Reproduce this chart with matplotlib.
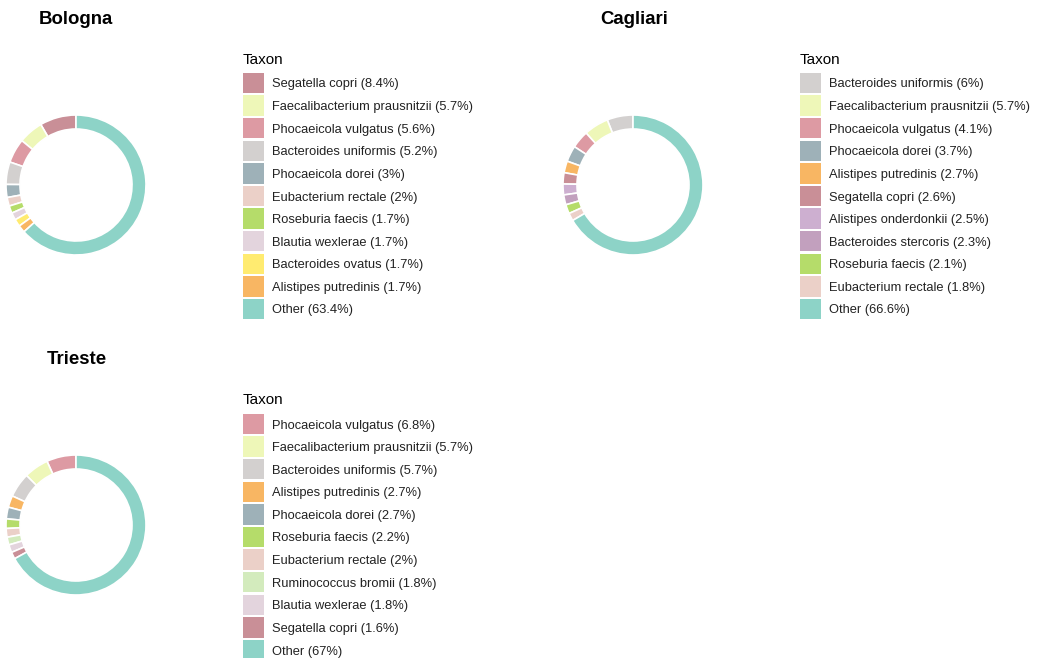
import matplotlib.pyplot as plt
from matplotlib.patches import Rectangle

plt.rcParams['font.family'] = ['Liberation Sans', 'DejaVu Sans']

W, H = 1040, 658

# taxon colours shared across sites
colors = {
    "Segatella copri": "#c98f97",
    "Faecalibacterium prausnitzii": "#eef7b8",
    "Phocaeicola vulgatus": "#dd9aa3",
    "Bacteroides uniformis": "#d3d0cf",
    "Phocaeicola dorei": "#9eb1b8",
    "Eubacterium rectale": "#ebd0c8",
    "Roseburia faecis": "#b5dc6a",
    "Blautia wexlerae": "#e3d4dd",
    "Bacteroides ovatus": "#ffeb70",
    "Alistipes putredinis": "#f8b663",
    "Alistipes onderdonkii": "#cdafd0",
    "Bacteroides stercoris": "#c2a0be",
    "Ruminococcus bromii": "#d3ebbd",
    "Other": "#8dd3c7",
}

bologna_taxa = ["Segatella copri", "Faecalibacterium prausnitzii", "Phocaeicola vulgatus",
                "Bacteroides uniformis", "Phocaeicola dorei", "Eubacterium rectale",
                "Roseburia faecis", "Blautia wexlerae", "Bacteroides ovatus",
                "Alistipes putredinis", "Other"]
bologna_pct = [8.4, 5.7, 5.6, 5.2, 3, 2, 1.7, 1.7, 1.7, 1.7, 63.4]

cagliari_taxa = ["Bacteroides uniformis", "Faecalibacterium prausnitzii", "Phocaeicola vulgatus",
                 "Phocaeicola dorei", "Alistipes putredinis", "Segatella copri",
                 "Alistipes onderdonkii", "Bacteroides stercoris", "Roseburia faecis",
                 "Eubacterium rectale", "Other"]
cagliari_pct = [6, 5.7, 4.1, 3.7, 2.7, 2.6, 2.5, 2.3, 2.1, 1.8, 66.6]

trieste_taxa = ["Phocaeicola vulgatus", "Faecalibacterium prausnitzii", "Bacteroides uniformis",
                "Alistipes putredinis", "Phocaeicola dorei", "Roseburia faecis",
                "Eubacterium rectale", "Ruminococcus bromii", "Blautia wexlerae",
                "Segatella copri", "Other"]
trieste_pct = [6.8, 5.7, 5.7, 2.7, 2.7, 2.2, 2, 1.8, 1.8, 1.6, 67]

fig = plt.figure(figsize=(W / 100, H / 100), dpi=100)


def fx(x):
    return x / W


def fy(y):
    return 1 - y / H


def fmt(v):
    return f"{v:g}%"


def site_panel(name, taxa, pct, title_x, title_y, cx, cy, lx, ly):
    fig.text(fx(title_x), fy(title_y), name, fontsize=13.4, fontweight='bold',
             ha='center', va='center')

    # donut
    r = 70
    size = 160
    ax = fig.add_axes([fx(cx - size / 2), fy(cy + size / 2), size / W, size / H])
    ax.pie(pct, colors=[colors[t] for t in taxa], startangle=90, counterclock=True,
           radius=1, wedgeprops=dict(width=0.2, edgecolor='white', linewidth=1.2))
    lim = size / 2 / r
    ax.set_xlim(-lim, lim)
    ax.set_ylim(-lim, lim)
    ax.set_aspect('equal')
    ax.axis('off')

    # legend
    fig.text(fx(lx), fy(ly + 1.5), "Taxon", fontsize=11, ha='left', va='center')
    row0 = ly + 25
    pitch = 22.6
    for i, (t, v) in enumerate(zip(taxa, pct)):
        yc = row0 + i * pitch
        fig.add_artist(Rectangle((fx(lx), fy(yc + 10.2)), 20.5 / W, 20.4 / H,
                                 transform=fig.transFigure, facecolor=colors[t],
                                 edgecolor='none'))
        fig.text(fx(lx + 29), fy(yc + 1.5), f"{t} ({fmt(v)})", fontsize=9.3,
                 color='#222222', ha='left', va='center')


site_panel("Bologna", bologna_taxa, bologna_pct, 76, 19, 76, 185, 243, 58)
site_panel("Cagliari", cagliari_taxa, cagliari_pct, 634, 19, 633, 185, 800, 58)
site_panel("Trieste", trieste_taxa, trieste_pct, 77, 359, 76, 525, 243, 399)

fig.savefig("out.png", dpi=100)
